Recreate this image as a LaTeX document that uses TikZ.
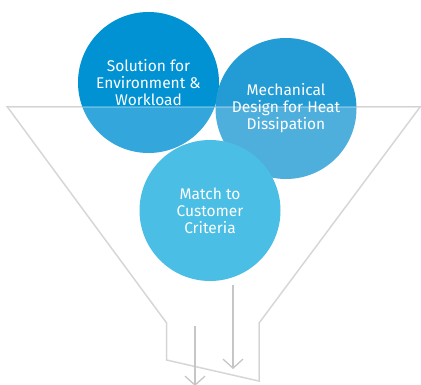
\documentclass[tikz,border=0pt]{standalone}
\usepackage{fontspec}
\setmainfont{Fira Sans}
\usetikzlibrary{arrows.meta}
\definecolor{cA}{HTML}{0092D2}
\definecolor{cB}{HTML}{239BD4}
\definecolor{cC}{HTML}{4ABEE4}
\definecolor{fun}{HTML}{D2D2D2}
\definecolor{arr}{HTML}{C6C6C6}
\tikzset{
  bubble/.style={circle, minimum size=141pt, inner sep=0pt, text=white, align=center,
    font=\fontsize{15.5}{17}\selectfont},
  funline/.style={draw=fun, line width=1.5pt, line join=miter},
  flow/.style={draw=arr, line width=1.3pt, -{Straight Barb[length=9pt,width=20pt,line width=1.3pt]}}
}
\begin{document}
\begin{tikzpicture}[x=1pt,y=-1pt]
\useasboundingbox (0,0) rectangle (421,385);
% funnel outline (behind bubbles)
\draw[funline] (7.5,107) -- (166.7,323) -- (166.7,360) -- (259,381) -- (259,323) -- (420,107) -- cycle;
% back bubbles
\node[bubble, fill=cA] (sol) at (148.5,82.5) {};
\node[bubble, fill=cB] (mech) at (286,108.5) {};
% translucent funnel overlay
\fill[white, opacity=0.2] (7.5,107) -- (166.7,323) -- (166.7,360) -- (259,381) -- (259,323) -- (420,107) -- cycle;
\begin{scope}
\clip (148.5,82.5) circle (70.5) (286,108.5) circle (70.5);
\draw[white, opacity=0.25, line width=1.5pt] (7.5,107) -- (420,107);
\end{scope}
% texts of back bubbles
\node[bubble] at (sol) {Solution for\\Environment \&\\Workload};
\node[bubble] at (mech) {Mechanical\\Design for Heat\\Dissipation};
% front bubble
\node[bubble, fill=cC] (match) at (210,210.5) {Match to\\Customer\\Criteria};
% arrows
\coordinate (a1s) at (195,326);
\coordinate (a1e) at (195,386);
\coordinate (a2s) at (233,285);
\coordinate (a2e) at (233,369);
\draw[flow] (a1s) -- (a1e);
\draw[flow] (a2s) -- (a2e);
\end{tikzpicture}
\end{document}
